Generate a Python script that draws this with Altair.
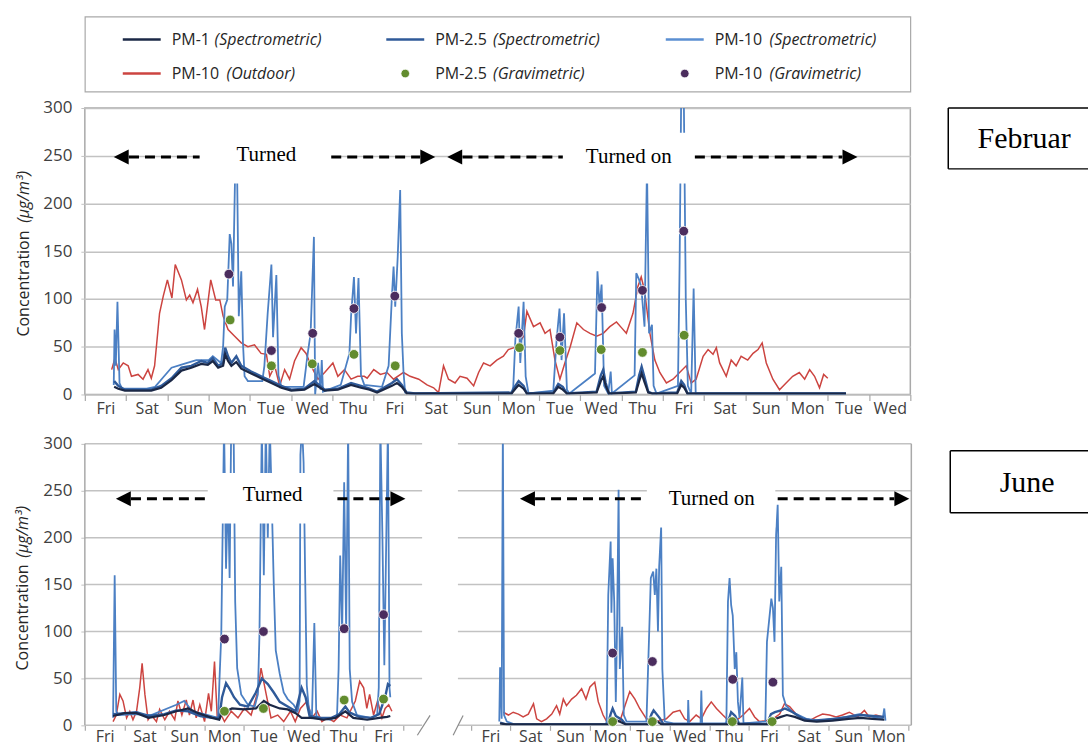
import json
import altair as alt
import pandas as pd

# ---------------- colours / fonts ----------------
GRID = "#c2c2c2"
FRAME = "#a9a9a9"
LABEL = "#404040"
C_PM1 = "#1b2846"
C_PM25 = "#2f5a99"
C_PM10 = "#4c80c4"
C_OUT = "#cc4440"
C_G25 = "#628c2e"
C_G10 = "#4b2d5e"
SANS = "Open Sans"
SERIF = "Liberation Serif"

# ---------------- axis categories ----------------
FEB_DAY_NAMES = ["Fri", "Sat", "Sun", "Mon", "Tue", "Wed", "Thu", "Fri", "Sat", "Sun",
                 "Mon", "Tue", "Wed", "Thu", "Fri", "Sat", "Sun", "Mon", "Tue", "Wed"]
JUN_DAY_NAMES_LEFT = ["Fri", "Sat", "Sun", "Mon", "Tue", "Wed", "Thu", "Fri"]
JUN_DAY_NAMES_RIGHT = ["Fri", "Sat", "Sun", "Mon", "Tue", "Wed", "Thu", "Fri", "Sat", "Sun", "Mon"]
Y_TICKS = [0, 50, 100, 150, 200, 250, 300]

FEB_X_DOMAIN = [0, 20]
JUN_X_DOMAIN = [0, 20.78]
JUN_LEFT_SPAN = [0, 8.48]
JUN_RIGHT_SPAN = [9.38, 20.78]
JUN_RIGHT_FIRST_TICK = 9.7

# ---------------- February series (day, concentration) ----------------
FEB_OUTDOOR = [(0.65, 26), (0.73, 38), (0.81, 26), (0.93, 33), (1.05, 30), (1.13, 19), (1.29, 21),
               (1.41, 16), (1.53, 26), (1.61, 17), (1.69, 30), (1.81, 85), (1.90, 103), (2.0, 120),
               (2.11, 101), (2.19, 136), (2.34, 120), (2.46, 99), (2.54, 104), (2.62, 96), (2.73, 110),
               (2.82, 92), (2.90, 68), (3.05, 120), (3.17, 99), (3.27, 99), (3.35, 82), (3.47, 68),
               (3.63, 61), (3.79, 54), (3.95, 50), (4.11, 52), (4.27, 43), (4.40, 42), (4.48, 19),
               (4.60, 30), (4.72, 9), (4.84, 26), (4.96, 16), (5.08, 35), (5.24, 49), (5.36, 43),
               (5.48, 30), (5.65, 16), (5.81, 23), (6.01, 33), (6.13, 19), (6.29, 26), (6.45, 16),
               (6.61, 19), (6.77, 19), (6.84, 17), (7.0, 26), (7.16, 21), (7.32, 23), (7.48, 16),
               (7.72, 23), (7.88, 19), (8.09, 16), (8.29, 10), (8.45, 7), (8.57, 2), (8.69, 30),
               (8.81, 16), (8.97, 12), (9.09, 19), (9.26, 17), (9.42, 9), (9.54, 23), (9.66, 33),
               (9.82, 30), (9.98, 36), (10.14, 40), (10.26, 47), (10.47, 50), (10.63, 61), (10.71, 87),
               (10.87, 71), (11.03, 75), (11.15, 64), (11.27, 68), (11.39, 36), (11.51, 16), (11.63, 33),
               (11.76, 50), (11.92, 75), (12.08, 68), (12.24, 64), (12.40, 61), (12.56, 64), (12.72, 71),
               (12.88, 76), (13.0, 70), (13.12, 64), (13.28, 85), (13.40, 113), (13.48, 123), (13.56, 109),
               (13.69, 64), (13.81, 36), (13.93, 23), (14.09, 12), (14.25, 16), (14.41, 23), (14.57, 30),
               (14.69, 12), (14.81, 16), (14.98, 40), (15.10, 47), (15.22, 42), (15.30, 49), (15.38, 33),
               (15.54, 19), (15.66, 36), (15.78, 30), (15.90, 40), (16.06, 36), (16.19, 43), (16.31, 47),
               (16.41, 54), (16.51, 33), (16.67, 16), (16.83, 5), (16.99, 12), (17.15, 19), (17.31, 23),
               (17.44, 16), (17.56, 26), (17.68, 19), (17.80, 7), (17.90, 21), (18.00, 17)]

FEB_PM10 = [(0.70, 10), (0.72, 68), (0.75, 30), (0.79, 97), (0.84, 12), (0.90, 6), (1.5, 6), (1.7, 8),
            (1.9, 18), (2.1, 28), (2.4, 32), (2.7, 36), (3.0, 36), (3.1, 40), (3.3, 33), (3.35, 50),
            (3.39, 92), (3.45, 99), (3.51, 168), (3.55, 158), (3.59, 113), (3.64, 230), (3.69, 230),
            (3.73, 82), (3.79, 129), (3.83, 55), (3.87, 19), (3.95, 14), (4.3, 14), (4.35, 30),
            (4.43, 85), (4.52, 136), (4.56, 60), (4.64, 125), (4.69, 20), (4.76, 8), (5.3, 8),
            (5.40, 43), (5.47, 64), (5.55, 165), (5.58, 0), (5.65, 33), (5.71, 5), (5.74, 36),
            (5.77, 3), (6.2, 10), (6.41, 43), (6.45, 82), (6.52, 123), (6.57, 64), (6.63, 122),
            (6.69, 20), (6.77, 10), (7.2, 8), (7.36, 30), (7.44, 103), (7.48, 134), (7.52, 92),
            (7.58, 144), (7.64, 214), (7.68, 64), (7.72, 24), (7.76, 2), (7.9, 1), (10.34, 1),
            (10.38, 8), (10.43, 57), (10.51, 92), (10.55, 33), (10.63, 97), (10.68, 19), (10.75, 1),
            (11.35, 4), (11.43, 57), (11.50, 90), (11.55, 36), (11.61, 85), (11.68, 5), (11.74, 1),
            (12.36, 22), (12.42, 129), (12.47, 92), (12.52, 115), (12.58, 9), (12.68, 1), (12.74, 24),
            (12.77, 1), (13.32, 20), (13.36, 127), (13.43, 120), (13.48, 113), (13.56, 71),
            (13.62, 240), (13.67, 64), (13.74, 73), (13.78, 9), (13.85, 1), (14.37, 9), (14.41, 137),
            (14.45, 320), (14.51, 320), (14.56, 99), (14.61, 9), (14.69, 1), (14.75, 111), (14.80, 1),
            (18.44, 1)]

FEB_PM25 = [(0.71, 14), (0.81, 9), (0.97, 5), (1.61, 5), (1.85, 9), (2.10, 17), (2.34, 28), (2.58, 30),
            (2.82, 35), (2.98, 33), (3.10, 38), (3.23, 30), (3.35, 33), (3.40, 49), (3.47, 40),
            (3.55, 33), (3.67, 40), (3.79, 30), (4.03, 24), (4.27, 19), (4.52, 14), (4.76, 9), (5.0, 5),
            (5.32, 6), (5.56, 14), (5.81, 5), (6.13, 6), (6.45, 12), (6.69, 9), (6.9, 6), (7.08, 3),
            (7.44, 12), (7.56, 16), (7.68, 10), (7.80, 2), (8.0, 1), (10.34, 2), (10.43, 9), (10.51, 14),
            (10.63, 9), (10.71, 1), (11.35, 2), (11.47, 11), (11.58, 8), (11.68, 1), (12.4, 3),
            (12.5, 20), (12.56, 26), (12.62, 12), (12.7, 1), (13.35, 3), (13.43, 20), (13.49, 29),
            (13.56, 18), (13.65, 3), (13.75, 1), (14.35, 2), (14.45, 14), (14.52, 10), (14.6, 1),
            (18.44, 1)]

FEB_PM1 = [(0.71, 8), (0.81, 6), (0.97, 4), (1.61, 4), (1.85, 7), (2.10, 15), (2.34, 25), (2.58, 28),
           (2.82, 32), (2.98, 31), (3.10, 35), (3.23, 28), (3.35, 30), (3.40, 42), (3.47, 35),
           (3.55, 30), (3.67, 34), (3.79, 27), (4.03, 22), (4.27, 17), (4.52, 12), (4.76, 7), (5.0, 4),
           (5.32, 5), (5.56, 11), (5.81, 4), (6.13, 5), (6.45, 10), (6.69, 7), (6.9, 5), (7.08, 2),
           (7.44, 9), (7.56, 12), (7.68, 8), (7.80, 1), (8.0, 1), (10.34, 1), (10.43, 6), (10.51, 10),
           (10.63, 6), (10.71, 1), (11.35, 1), (11.47, 8), (11.58, 5), (11.68, 1), (12.4, 2),
           (12.5, 14), (12.56, 19), (12.62, 9), (12.7, 1), (13.35, 2), (13.43, 14), (13.49, 22),
           (13.56, 13), (13.65, 2), (13.75, 1), (14.35, 1), (14.45, 10), (14.52, 7), (14.6, 1),
           (18.44, 1)]

FEB_GRAV_PM10_DAY = [3.49, 4.52, 5.52, 6.52, 7.51, 10.51, 11.51, 12.52, 13.51, 14.51]
FEB_GRAV_PM10 = [126, 46, 64, 90, 103, 64, 60, 91, 109, 171]
FEB_GRAV_PM25_DAY = [3.52, 4.52, 5.51, 6.52, 7.52, 10.53, 11.51, 12.51, 13.51, 14.52]
FEB_GRAV_PM25 = [78, 30, 32, 42, 30, 49, 46, 47, 44, 62]

# ---------------- June series (day, concentration) ----------------
JUN_OUTDOOR_LEFT = [(0.71, 4), (0.79, 11), (0.88, 33), (0.96, 26), (1.05, 8), (1.13, 15), (1.21, 6),
                    (1.30, 15), (1.38, 40), (1.44, 66), (1.51, 33), (1.59, 6), (1.67, 11), (1.80, 4),
                    (1.88, 17), (2.01, 6), (2.13, 15), (2.26, 6), (2.34, 26), (2.44, 11), (2.55, 27),
                    (2.63, 11), (2.72, 27), (2.80, 8), (2.89, 22), (3.01, 4), (3.11, 34), (3.18, 15),
                    (3.26, 68), (3.33, 8), (3.43, 11), (3.51, 4), (3.68, 15), (3.85, 8), (4.01, 18),
                    (4.18, 11), (4.35, 36), (4.43, 61), (4.56, 33), (4.68, 8), (4.85, 11), (5.0, 4),
                    (5.17, 15), (5.29, 4), (5.42, 18), (5.59, 26), (5.71, 8), (5.84, 15), (5.96, 4),
                    (6.09, 8), (6.26, 4), (6.42, 11), (6.59, 8), (6.80, 26), (6.91, 47), (7.01, 40),
                    (7.09, 18), (7.16, 33), (7.26, 11), (7.36, 26), (7.47, 8), (7.55, 18), (7.64, 22),
                    (7.72, 15)]
JUN_OUTDOOR_RIGHT = [(10.52, 14), (10.65, 11), (10.77, 14), (10.90, 12), (11.02, 9), (11.15, 12),
                     (11.28, 23), (11.36, 7), (11.48, 4), (11.61, 7), (11.74, 12), (11.86, 21),
                     (11.94, 12), (12.03, 28), (12.11, 21), (12.24, 28), (12.36, 32), (12.49, 39),
                     (12.60, 28), (12.70, 41), (12.82, 46), (12.91, 25), (13.03, 11), (13.12, 4),
                     (13.45, 4), (13.58, 21), (13.70, 36), (13.83, 28), (13.95, 18), (14.12, 7),
                     (14.29, 4), (14.45, 5), (14.62, 7), (14.79, 14), (14.96, 16), (15.08, 7),
                     (15.21, 4), (15.37, 11), (15.50, 7), (15.63, 18), (15.75, 25), (15.88, 18),
                     (16.04, 11), (16.21, 4), (16.38, 5), (16.55, 11), (16.71, 18), (16.84, 9),
                     (16.96, 4), (17.13, 5), (17.30, 7), (17.47, 12), (17.59, 23), (17.72, 20),
                     (17.88, 12), (18.05, 7), (18.22, 5), (18.39, 9), (18.55, 12), (18.72, 11),
                     (18.89, 9), (19.05, 11), (19.22, 14), (19.43, 9), (19.60, 16), (19.72, 9),
                     (19.89, 11), (20.06, 9)]

JUN_PM10_LEFT = [(0.71, 8), (0.75, 160), (0.79, 15), (0.84, 11), (1.3, 12), (1.67, 11), (2.3, 22),
                 (2.5, 26), (2.7, 15), (3.0, 12), (3.35, 8), (3.39, 54), (3.43, 96), (3.50, 320),
                 (3.55, 167), (3.60, 250), (3.64, 157), (3.68, 320), (3.74, 320), (3.78, 132),
                 (3.83, 61), (3.93, 33), (4.10, 22), (4.27, 20), (4.35, 33), (4.39, 96), (4.45, 320),
                 (4.50, 160), (4.55, 320), (4.60, 200), (4.65, 320), (4.70, 238), (4.75, 150),
                 (4.80, 80), (4.90, 55), (5.0, 35), (5.10, 28), (5.25, 22), (5.35, 15), (5.40, 26),
                 (5.42, 288), (5.46, 320), (5.50, 280), (5.54, 157), (5.58, 43), (5.63, 18), (5.71, 10),
                 (5.77, 109), (5.82, 10), (5.92, 8), (6.17, 6), (6.34, 10), (6.38, 60), (6.42, 181),
                 (6.47, 100), (6.52, 259), (6.57, 100), (6.62, 320), (6.66, 60), (6.72, 25), (6.84, 11),
                 (7.18, 8), (7.35, 11), (7.39, 40), (7.43, 320), (7.48, 206), (7.53, 64), (7.58, 203),
                 (7.62, 320), (7.66, 40), (7.68, 30)]
JUN_PM10_RIGHT = [(10.42, 4), (10.44, 62), (10.48, 7), (10.51, 320), (10.54, 11), (10.61, 4),
                  (10.8, 1), (13.1, 1), (13.12, 4), (13.16, 139), (13.22, 196), (13.24, 120),
                  (13.27, 178), (13.31, 132), (13.35, 25), (13.38, 100), (13.42, 251), (13.45, 60),
                  (13.51, 105), (13.55, 11), (13.62, 4), (14.12, 4), (14.19, 100), (14.23, 157),
                  (14.29, 164), (14.33, 139), (14.37, 167), (14.41, 100), (14.44, 169), (14.49, 212),
                  (14.52, 60), (14.58, 4), (14.8, 2), (15.16, 2), (15.17, 27), (15.19, 2), (15.48, 2),
                  (15.50, 37), (15.52, 2), (16.1, 2), (16.13, 4), (16.17, 132), (16.21, 157),
                  (16.25, 128), (16.29, 117), (16.34, 60), (16.38, 78), (16.42, 25), (16.46, 8),
                  (16.53, 51), (16.56, 2), (17.11, 4), (17.15, 89), (17.20, 110), (17.26, 135),
                  (17.30, 125), (17.34, 89), (17.38, 203), (17.42, 235), (17.46, 132), (17.51, 169),
                  (17.55, 32), (17.63, 21), (17.80, 14), (18.14, 7), (18.47, 5), (18.80, 7),
                  (19.14, 9), (19.47, 12), (19.81, 9), (20.06, 7), (20.10, 18), (20.13, 5)]

JUN_PM25_LEFT = [(0.71, 12), (1.0, 13), (1.3, 14), (1.6, 10), (2.0, 12), (2.3, 16), (2.6, 15), (2.9, 10),
                 (3.2, 8), (3.38, 8), (3.45, 30), (3.55, 45), (3.65, 38), (3.75, 30), (3.9, 22), (4.1, 20),
                 (4.3, 35), (4.45, 50), (4.6, 44), (4.75, 35), (4.9, 25), (5.1, 20), (5.3, 15), (5.45, 40),
                 (5.55, 30), (5.65, 10), (5.9, 8), (6.2, 8), (6.4, 12), (6.55, 20), (6.65, 14), (6.9, 9),
                 (7.2, 8), (7.4, 12), (7.55, 30), (7.62, 44), (7.68, 42)]
JUN_PM25_RIGHT = [(10.44, 3), (10.6, 1), (13.15, 1), (13.22, 12), (13.27, 18), (13.35, 10), (13.5, 6),
                  (13.6, 1), (14.15, 1), (14.25, 12), (14.3, 16), (14.45, 8), (14.55, 1), (16.15, 1),
                  (16.25, 14), (16.35, 10), (16.45, 2), (17.15, 1), (17.25, 12), (17.35, 14), (17.5, 16),
                  (17.6, 18), (17.8, 14), (18.05, 7), (18.3, 5), (18.6, 6), (18.9, 7), (19.2, 9),
                  (19.5, 11), (19.8, 10), (20.1, 9)]

JUN_PM1_LEFT = [(0.71, 10), (1.0, 13), (1.3, 13), (1.6, 8), (2.0, 11), (2.3, 15), (2.6, 18), (2.85, 13),
                (3.2, 8), (3.38, 6), (3.45, 13), (3.7, 18), (4.0, 17), (4.3, 18), (4.5, 26), (4.65, 22),
                (4.9, 18), (5.1, 17), (5.3, 13), (5.45, 8), (5.7, 8), (6.0, 6), (6.3, 8), (6.55, 15),
                (6.75, 8), (7.1, 6), (7.4, 8), (7.6, 9), (7.68, 10)]
JUN_PM1_RIGHT = [(10.44, 2), (10.6, 1), (13.15, 1), (13.25, 8), (13.4, 5), (13.6, 1), (14.2, 1), (14.3, 7),
                 (14.5, 1), (16.2, 1), (16.28, 7), (16.45, 1), (17.2, 1), (17.3, 6), (17.5, 9), (17.65, 11),
                 (17.85, 9), (18.1, 5), (18.4, 4), (18.8, 5), (19.2, 7), (19.5, 8), (19.8, 7), (20.1, 6)]

JUN_GRAV_PM10_DAY = [3.51, 4.49, 6.52, 7.51, 13.27, 14.27, 16.29, 17.30]
JUN_GRAV_PM10 = [92, 100, 103, 118, 77, 68, 49, 46]
JUN_GRAV_PM25_DAY = [3.51, 4.49, 6.52, 7.51, 13.27, 14.27, 16.28, 17.28]
JUN_GRAV_PM25 = [15, 18, 27, 28, 4, 4, 4, 4]

# ---------------- annotations (data units) ----------------
FEB_BOXES = [(2.78, 5.97, 221, 274), (11.58, 14.78, 221, 274)]
FEB_DASHES = [(1.07, 2.78), (5.97, 8.12), (9.15, 11.58), (14.78, 18.35)]
FEB_ARROW_Y = 248.7
FEB_ARROW_LEFT = [0.70, 8.78]
FEB_ARROW_RIGHT = [8.49, 18.72]
FEB_TEXT = [(4.40, 250.8, "Turned"), (13.18, 248.7, "Turned on")]

JUN_BOXES = [(3.09, 6.25, 215, 269), (14.13, 17.36, 211, 272)]
JUN_DASHES = [(1.16, 3.09), (6.35, 7.68), (11.32, 14.13), (17.42, 20.35)]
JUN_ARROW_Y = 241.5
JUN_ARROW_LEFT = [0.78, 10.94]
JUN_ARROW_RIGHT = [8.06, 20.73]
JUN_TEXT = [(4.72, 245.8, "Turned"), (15.76, 241.5, "Turned on")]
JUN_BREAKS = [(8.36, 8.68), (9.26, 9.51)]

# ---------------- legend entries ----------------
LEG_KEY = ["PM-1 spec", "PM-2.5 spec", "PM-10 spec", "PM-10 out", "PM-2.5 grav", "PM-10 grav"]
LEG_NAME = ["PM-1", "PM-2.5", "PM-10", "PM-10", "PM-2.5", "PM-10"]
LEG_QUAL = ["(Spectrometric)", "(Spectrometric)", "(Spectrometric)", "(Outdoor)", "(Gravimetric)", "(Gravimetric)"]
LEG_KIND = ["line", "line", "line", "line", "dot", "dot"]
LEG_COL = [0, 1, 2, 0, 1, 2]
LEG_ROW = [0, 0, 0, 1, 1, 1]
LEG_COLORS = [C_PM1, C_PM25, "#5b8fd2", C_OUT, C_G25, C_G10]
ITALIC_DX = {"PM-1": 73, "PM-2.5": 88, "PM-10": 85}

ONE = pd.DataFrame({"k": [0]})


def series(pairs, seg=0):
    return pd.DataFrame(pairs, columns=["day", "conc"]).assign(seg=seg)


def build_panel(x_domain, x_axis, y_axis, lines, grav10, grav25,
                boxes, dashes, arrow_y, arrow_left, arrow_right, texts, arrow_px):
    xs = alt.Scale(domain=x_domain, nice=False, zero=False)
    ys = alt.Scale(domain=[0, 300], nice=False)

    def X(f):
        return alt.X(f"{f}:Q", scale=xs, axis=x_axis)

    def Y(f):
        return alt.Y(f"{f}:Q", scale=ys, axis=y_axis)

    layers = []
    for df, color, sw in lines:
        layers.append(alt.Chart(df).mark_line(color=color, strokeWidth=sw, clip=True)
                      .encode(x=X("day"), y=Y("conc"), detail="seg:N", order="day:Q"))
    for (days, vals), color in ((grav10, C_G10), (grav25, C_G25)):
        layers.append(alt.Chart(pd.DataFrame({"day": days, "conc": vals}))
                      .mark_circle(size=95, color=color, opacity=1, stroke="white", strokeWidth=0.8)
                      .encode(x=X("day"), y=Y("conc")))
    bdf = pd.DataFrame(boxes, columns=["x1", "x2", "y1", "y2"])
    layers.append(alt.Chart(bdf).mark_rect(fill="white", opacity=1)
                  .encode(x=X("x1"), x2="x2:Q", y=Y("y1"), y2="y2:Q"))
    ddf = pd.DataFrame(dashes, columns=["x1", "x2"]).assign(y=arrow_y)
    layers.append(alt.Chart(ddf).mark_rule(color="black", strokeWidth=3, strokeDash=[10, 6])
                  .encode(x=X("x1"), x2="x2:Q", y=Y("y")))
    layers.append(alt.Chart(pd.DataFrame({"x": arrow_left, "y": arrow_y}))
                  .mark_point(shape="M0,0L1,-0.5L1,0.5Z", filled=True, color="black", opacity=1,
                              size=arrow_px, strokeWidth=0)
                  .encode(x=X("x"), y=Y("y")))
    layers.append(alt.Chart(pd.DataFrame({"x": arrow_right, "y": arrow_y}))
                  .mark_point(shape="M0,0L-1,-0.5L-1,0.5Z", filled=True, color="black", opacity=1,
                              size=arrow_px, strokeWidth=0)
                  .encode(x=X("x"), y=Y("y")))
    tdf = pd.DataFrame(texts, columns=["x", "y", "t"])
    layers.append(alt.Chart(tdf).mark_text(font=SERIF, fontSize=21, color="black", align="center",
                                           baseline="middle")
                  .encode(x=X("x"), y=Y("y"), text="t:N"))
    return layers


# ---------------- February panel ----------------
feb_x_axis = alt.Axis(values=list(range(0, 21)), title=None,
                      labelExpr=f"datum.value < 20 ? {json.dumps(FEB_DAY_NAMES)}[datum.value] : ''",
                      labelOffset=20.7, labelFlush=False, labelOverlap=False, labelAngle=0,
                      labelBaseline="alphabetic", labelPadding=13, tickSize=6, tickColor=FRAME,
                      tickWidth=1.2, domain=False, grid=False, labelFont=SANS, labelFontSize=16,
                      labelColor=LABEL)
feb_y_axis = alt.Axis(values=Y_TICKS, title=None, grid=True, gridColor=GRID, gridWidth=1.5,
                      tickSize=4, tickColor=GRID, domain=False, labelFont=SANS, labelFontSize=17,
                      labelPadding=9, labelColor=LABEL)

feb_layers = build_panel(
    FEB_X_DOMAIN, feb_x_axis, feb_y_axis,
    [(series(FEB_OUTDOOR), C_OUT, 1.5), (series(FEB_PM10), C_PM10, 1.8),
     (series(FEB_PM25), C_PM25, 2.4), (series(FEB_PM1), C_PM1, 2.2)],
    (FEB_GRAV_PM10_DAY, FEB_GRAV_PM10), (FEB_GRAV_PM25_DAY, FEB_GRAV_PM25),
    FEB_BOXES, FEB_DASHES, FEB_ARROW_Y, FEB_ARROW_LEFT, FEB_ARROW_RIGHT, FEB_TEXT, 900)

feb_extra = [
    alt.Chart(pd.DataFrame({"t": ["Concentration"]})).mark_text(
        angle=270, align="left", baseline="middle", font=SANS, fontSize=16, color="#262626")
    .encode(x=alt.value(-61), y=alt.value(229), text="t:N"),
    alt.Chart(pd.DataFrame({"t": ["(\u03bcg/m\u00b3)"]})).mark_text(
        angle=270, align="left", baseline="middle", font=SANS, fontSize=16, fontStyle="italic",
        color="#262626")
    .encode(x=alt.value(-61), y=alt.value(115), text="t:N"),
    # "Februar" label box (open on the right, running off the page)
    alt.Chart(ONE).mark_rule(color="black", strokeWidth=1.5)
    .encode(x=alt.value(865), x2=alt.value(1005), y=alt.value(0)),
    alt.Chart(ONE).mark_rule(color="black", strokeWidth=1.5)
    .encode(x=alt.value(865), x2=alt.value(1005), y=alt.value(61)),
    alt.Chart(ONE).mark_rule(color="black", strokeWidth=1.5)
    .encode(x=alt.value(865), y=alt.value(0), y2=alt.value(61)),
    alt.Chart(pd.DataFrame({"t": ["Februar"]})).mark_text(
        font=SERIF, fontSize=30, color="black", align="center", baseline="middle")
    .encode(x=alt.value(941), y=alt.value(31), text="t:N"),
    # invisible spacer that sets the gap to the June panel
    alt.Chart(ONE).mark_rule(opacity=0)
    .encode(x=alt.value(0), y=alt.value(287), y2=alt.value(320)),
]

feb_chart = alt.layer(*feb_layers, *feb_extra).properties(
    width=827, height=287, view=alt.ViewBackground(stroke=FRAME, strokeWidth=1.5))

# ---------------- June panel ----------------
jun_ticks = list(range(0, 9)) + [round(JUN_RIGHT_FIRST_TICK + k, 2) for k in range(12)]
jun_label_expr = (f"datum.value < 8 ? {json.dumps(JUN_DAY_NAMES_LEFT)}[floor(datum.value)] : "
                  f"(datum.value > 9 && datum.value < 20.5 ? "
                  f"{json.dumps(JUN_DAY_NAMES_RIGHT)}[round(datum.value - {JUN_RIGHT_FIRST_TICK})] : '')")
jun_x_axis = alt.Axis(values=jun_ticks, title=None, labelExpr=jun_label_expr, labelOffset=19.9,
                      labelFlush=False, labelOverlap=False, labelAngle=0, labelBaseline="alphabetic",
                      labelPadding=11, tickSize=5, tickColor=FRAME, tickWidth=1.2, domain=False,
                      grid=False, labelFont=SANS, labelFontSize=16, labelColor=LABEL)
jun_y_axis = alt.Axis(values=Y_TICKS, title=None, grid=False, tickSize=4, tickColor=GRID,
                      domain=False, labelFont=SANS, labelFontSize=17, labelPadding=9, labelColor=LABEL)

grid_rows = []
for v in Y_TICKS:
    grid_rows.append((JUN_LEFT_SPAN[0], JUN_LEFT_SPAN[1], v))
    grid_rows.append((JUN_RIGHT_SPAN[0], JUN_RIGHT_SPAN[1], v))
grid_df = pd.DataFrame(grid_rows, columns=["x1", "x2", "y"])

JX_S = alt.Scale(domain=JUN_X_DOMAIN, nice=False, zero=False)
JY_S = alt.Scale(domain=[0, 300], nice=False)


def JX(f):
    return alt.X(f"{f}:Q", scale=JX_S, axis=jun_x_axis)


def JY(f):
    return alt.Y(f"{f}:Q", scale=JY_S, axis=jun_y_axis)


jun_under = [
    alt.Chart(grid_df).mark_rule(color=GRID, strokeWidth=1.5)
    .encode(x=JX("x1"), x2="x2:Q", y=JY("y")),
    alt.Chart(pd.DataFrame({"x": [JUN_LEFT_SPAN[0], JUN_RIGHT_SPAN[1]], "y1": [0, 0], "y2": [300, 300]}))
    .mark_rule(color=FRAME, strokeWidth=1.5)
    .encode(x=JX("x"), y=JY("y1"), y2="y2:Q"),
    alt.Chart(pd.DataFrame(JUN_BREAKS, columns=["x1", "x2"]).assign(y1=-10.6, y2=10.6))
    .mark_rule(color="#8c8c8c", strokeWidth=1.2)
    .encode(x=JX("x1"), x2="x2:Q", y=JY("y1"), y2="y2:Q"),
]

jun_layers = build_panel(
    JUN_X_DOMAIN, jun_x_axis, jun_y_axis,
    [(pd.concat([series(JUN_OUTDOOR_LEFT, 0), series(JUN_OUTDOOR_RIGHT, 1)]), C_OUT, 1.5),
     (pd.concat([series(JUN_PM10_LEFT, 0), series(JUN_PM10_RIGHT, 1)]), C_PM10, 1.8),
     (pd.concat([series(JUN_PM25_LEFT, 0), series(JUN_PM25_RIGHT, 1)]), C_PM25, 2.4),
     (pd.concat([series(JUN_PM1_LEFT, 0), series(JUN_PM1_RIGHT, 1)]), C_PM1, 2.2)],
    (JUN_GRAV_PM10_DAY, JUN_GRAV_PM10), (JUN_GRAV_PM25_DAY, JUN_GRAV_PM25),
    JUN_BOXES, JUN_DASHES, JUN_ARROW_Y, JUN_ARROW_LEFT, JUN_ARROW_RIGHT, JUN_TEXT, 900)

jun_extra = [
    alt.Chart(pd.DataFrame({"t": ["Concentration"]})).mark_text(
        angle=270, align="left", baseline="middle", font=SANS, fontSize=16, color="#262626")
    .encode(x=alt.value(-62), y=alt.value(227), text="t:N"),
    alt.Chart(pd.DataFrame({"t": ["(\u03bcg/m\u00b3)"]})).mark_text(
        angle=270, align="left", baseline="middle", font=SANS, fontSize=16, fontStyle="italic",
        color="#262626")
    .encode(x=alt.value(-62), y=alt.value(114), text="t:N"),
    alt.Chart(ONE).mark_rule(color="black", strokeWidth=1.5)
    .encode(x=alt.value(867), x2=alt.value(1005), y=alt.value(7)),
    alt.Chart(ONE).mark_rule(color="black", strokeWidth=1.5)
    .encode(x=alt.value(867), x2=alt.value(1005), y=alt.value(69)),
    alt.Chart(ONE).mark_rule(color="black", strokeWidth=1.5)
    .encode(x=alt.value(867), y=alt.value(7), y2=alt.value(69)),
    alt.Chart(pd.DataFrame({"t": ["June"]})).mark_text(
        font=SERIF, fontSize=30, color="black", align="center", baseline="middle")
    .encode(x=alt.value(944), y=alt.value(39), text="t:N"),
]

jun_chart = alt.layer(*jun_under, *jun_layers, *jun_extra).properties(
    width=828, height=282, view=alt.ViewBackground(stroke="transparent"))

# ---------------- legend panel ----------------
leg_df = pd.DataFrame({"key": LEG_KEY, "name": LEG_NAME, "qual": LEG_QUAL, "kind": LEG_KIND,
                       "col": LEG_COL, "row": LEG_ROW})
LX = alt.X("col:Q", scale=alt.Scale(domain=[0, 1, 2], range=[57, 321, 601]), axis=None)
LY = alt.Y("row:Q", scale=alt.Scale(domain=[0, 1], range=[23, 57]), axis=None)
LC = alt.Color("key:N", scale=alt.Scale(domain=LEG_KEY, range=LEG_COLORS), legend=None)

leg_layers = [
    alt.Chart(leg_df).transform_filter("datum.kind == 'line'")
    .mark_point(shape="stroke", size=1444, strokeWidth=2.5, opacity=1)
    .encode(x=LX, y=LY, stroke=LC),
    alt.Chart(leg_df).transform_filter("datum.kind == 'dot'")
    .mark_circle(size=75, opacity=1, stroke="white", strokeWidth=0.8)
    .encode(x=LX, y=LY, fill=LC),
    alt.Chart(leg_df).mark_text(align="left", baseline="middle", dx=30, font=SANS, fontSize=16,
                                color="#262626")
    .encode(x=LX, y=LY, text="name:N"),
]
for nm, dx in ITALIC_DX.items():
    leg_layers.append(
        alt.Chart(leg_df).transform_filter(f"datum.name == '{nm}'")
        .mark_text(align="left", baseline="middle", dx=dx, font=SANS, fontSize=16,
                   fontStyle="italic", color="#262626")
        .encode(x=LX, y=LY, text="qual:N"))

legend_chart = alt.layer(*leg_layers).properties(
    width=827, height=75, view=alt.ViewBackground(stroke=FRAME, strokeWidth=1.2))

chart = alt.vconcat(legend_chart, feb_chart, jun_chart, spacing=5.5).properties(
    padding={"left": 14, "top": 15, "right": 0, "bottom": 0}, background="white")

chart.save("out.html", embed_options={"renderer": "svg", "actions": False})
